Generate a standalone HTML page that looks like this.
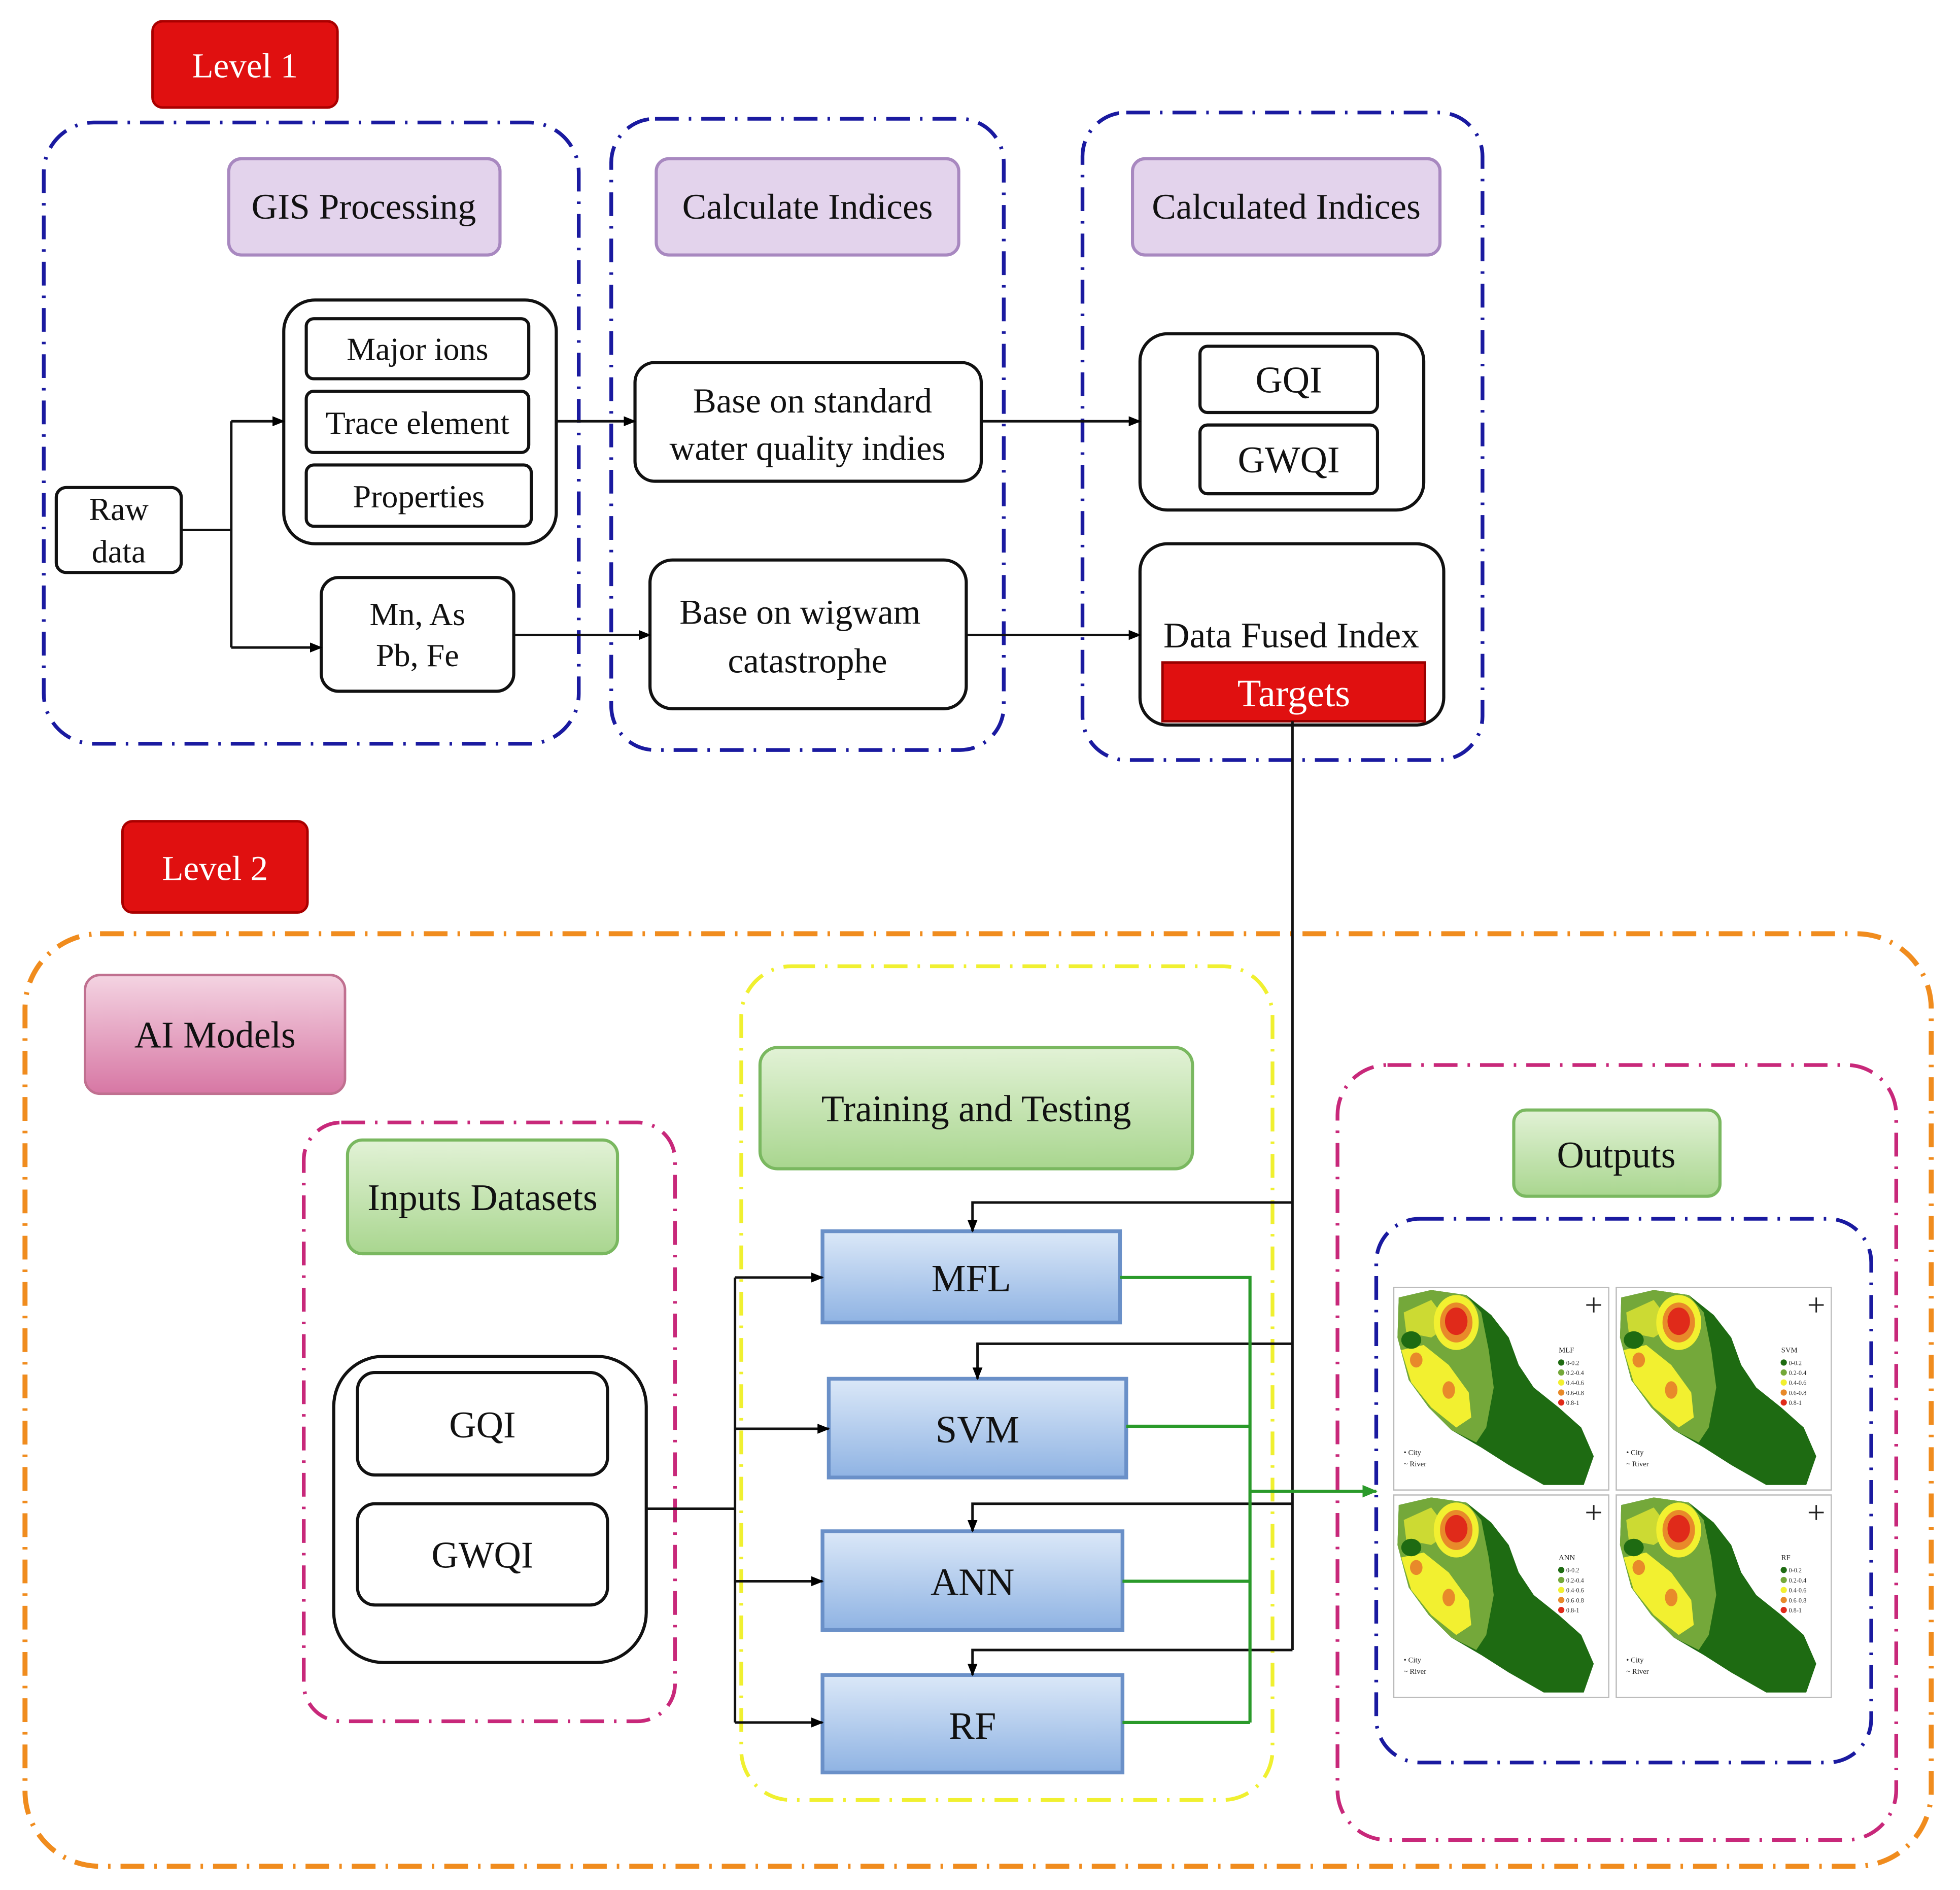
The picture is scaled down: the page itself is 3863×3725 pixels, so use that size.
<!DOCTYPE html>
<html><head><meta charset="utf-8"><style>html,body{margin:0;padding:0;background:#fff}svg{display:block}</style></head>
<body>
<svg xmlns="http://www.w3.org/2000/svg" width="3863" height="3725" viewBox="0 0 1568 1512" font-family="'Liberation Serif', serif">
<defs>
<marker id="ak" markerWidth="10" markerHeight="8" refX="9" refY="4" orient="auto" markerUnits="userSpaceOnUse"><path d="M0,0 L10,4 L0,8 Z" fill="#000"/></marker>
<marker id="ag" markerWidth="12" markerHeight="10" refX="11" refY="5" orient="auto" markerUnits="userSpaceOnUse"><path d="M0,0 L12,5 L0,10 Z" fill="#2a9a2a"/></marker>
<linearGradient id="gb" x1="0" y1="0" x2="0" y2="1"><stop offset="0" stop-color="#dbe8f8"/><stop offset="1" stop-color="#8fb3e3"/></linearGradient>
<linearGradient id="gg" x1="0" y1="0" x2="0" y2="1"><stop offset="0" stop-color="#e2f2d6"/><stop offset="1" stop-color="#a9d68f"/></linearGradient>
<linearGradient id="gp" x1="0" y1="0" x2="0" y2="1"><stop offset="0" stop-color="#f4d4e2"/><stop offset="1" stop-color="#d777a4"/></linearGradient>
<g id="mapbase">
<rect x="0" y="0" width="172" height="162" fill="#fff" stroke="#bbb" stroke-width="1"/>
<path d="M4,8 L30,2 L58,6 L78,22 L92,40 L100,62 L112,80 L132,96 L150,112 L160,135 L152,158 L120,158 L92,142 L70,128 L46,114 L28,96 L12,74 L3,40 Z" fill="#1e6b12"/>
<path d="M4,8 L30,2 L58,6 L70,20 L76,50 L80,80 L74,112 L66,124 L46,114 L28,96 L12,74 L3,40 Z" fill="#74a83a"/>
<path d="M6,50 L24,46 L44,62 L60,84 L62,104 L50,112 L30,96 L14,76 Z" fill="#f2f030"/>
<path d="M8,20 L30,10 L45,30 L30,40 L10,36 Z" fill="#f2f030" opacity="0.7"/>
<ellipse cx="50" cy="28" rx="18" ry="22" fill="#f2f030"/>
<ellipse cx="50" cy="28" rx="13" ry="16" fill="#e88a2a"/>
<ellipse cx="50" cy="27" rx="9" ry="11" fill="#e02a1a"/>
<ellipse cx="18" cy="58" rx="5" ry="6" fill="#e88a2a"/>
<ellipse cx="44" cy="82" rx="5" ry="7" fill="#e88a2a"/>
<ellipse cx="14" cy="42" rx="8" ry="7" fill="#1e6b12"/>
<g font-size="5" fill="#333"><circle cx="134" cy="60" r="2.5" fill="#1e6b12"/><text x="138" y="62">0-0.2</text><circle cx="134" cy="68" r="2.5" fill="#74a83a"/><text x="138" y="70">0.2-0.4</text><circle cx="134" cy="76" r="2.5" fill="#f2f030"/><text x="138" y="78">0.4-0.6</text><circle cx="134" cy="84" r="2.5" fill="#e88a2a"/><text x="138" y="86">0.6-0.8</text><circle cx="134" cy="92" r="2.5" fill="#e02a1a"/><text x="138" y="94">0.8-1</text></g>
<text x="8" y="134" font-size="6" fill="#222">• City</text><text x="8" y="143" font-size="6" fill="#222">~ River</text>
<path d="M160,8 L160,20 M154,14 L166,14" stroke="#222" stroke-width="1.2"/>
</g>
</defs>

<g fill="none" stroke-width="3" stroke-dasharray="19 8 2 8">
<rect x="35" y="98" width="428" height="497" rx="40" stroke="#1a1aa0"/>
<rect x="489" y="95" width="314" height="505" rx="35" stroke="#1a1aa0"/>
<rect x="866" y="90" width="320" height="518" rx="35" stroke="#1a1aa0"/>
<rect x="20" y="747" width="1525" height="746" rx="60" stroke="#f08c1e" stroke-width="4"/>
<rect x="243" y="898" width="297" height="479" rx="30" stroke="#c8287a"/>
<rect x="593" y="773" width="425" height="667" rx="40" stroke="#f0f030"/>
<rect x="1070" y="852" width="447" height="620" rx="40" stroke="#c8287a"/>
<rect x="1101" y="975" width="396" height="435" rx="35" stroke="#1a1aa0"/>
</g>

<rect x="122" y="17" width="148" height="69" rx="8" fill="#e01010" stroke="#a00" stroke-width="2"/>
<text x="196" y="62" font-size="28" fill="#fff" text-anchor="middle">Level 1</text>
<rect x="98" y="657" width="148" height="73" rx="8" fill="#e01010" stroke="#a00" stroke-width="2"/>
<text x="172" y="704" font-size="28" fill="#fff" text-anchor="middle">Level 2</text>

<g fill="#e3d3ec" stroke="#a888c0" stroke-width="2.5">
<rect x="183" y="127" width="217" height="77" rx="10"/>
<rect x="525" y="127" width="242" height="77" rx="10"/>
<rect x="906" y="127" width="246" height="77" rx="10"/>
</g>
<g font-size="29" text-anchor="middle" fill="#111">
<text x="291" y="175">GIS Processing</text>
<text x="646" y="175">Calculate Indices</text>
<text x="1029" y="175">Calculated Indices</text>
</g>

<g fill="#fff" stroke="#111" stroke-width="2.5">
<rect x="227" y="240" width="218" height="195" rx="25"/>
<rect x="245" y="255" width="178" height="48" rx="6"/>
<rect x="245" y="313" width="178" height="49" rx="6"/>
<rect x="245" y="372" width="180" height="49" rx="6"/>
<rect x="45" y="390" width="100" height="68" rx="8"/>
<rect x="257" y="462" width="154" height="91" rx="14"/>
<rect x="508" y="290" width="277" height="95" rx="16"/>
<rect x="520" y="448" width="253" height="119" rx="18"/>
<rect x="912" y="267" width="227" height="141" rx="22"/>
<rect x="960" y="277" width="142" height="53" rx="6"/>
<rect x="960" y="340" width="142" height="55" rx="6"/>
<rect x="912" y="435" width="243" height="145" rx="22"/>
<rect x="267" y="1085" width="250" height="245" rx="40"/>
<rect x="286" y="1098" width="200" height="82" rx="14"/>
<rect x="286" y="1203" width="200" height="81" rx="14"/>
</g>
<rect x="930" y="530" width="210" height="47" fill="#e01010" stroke="#900" stroke-width="2"/>

<g font-size="26" text-anchor="middle" fill="#111">
<text x="334" y="288">Major ions</text>
<text x="334" y="347">Trace element</text>
<text x="335" y="406">Properties</text>
<text x="95" y="416">Raw</text><text x="95" y="450">data</text>
<text x="334" y="500">Mn, As</text><text x="334" y="533">Pb, Fe</text>
<text x="650" y="330" font-size="28">Base on standard</text>
<text x="646" y="368" font-size="28">water quality indies</text>
<text x="640" y="499" font-size="28">Base on wigwam</text>
<text x="646" y="538" font-size="28">catastrophe</text>
<text x="1031" y="314" font-size="30">GQI</text>
<text x="1031" y="378" font-size="30">GWQI</text>
<text x="1033" y="518" font-size="29">Data Fused Index</text>
<text x="1035" y="565" font-size="31" fill="#fff">Targets</text>
<text x="386" y="1150" font-size="30">GQI</text>
<text x="386" y="1254" font-size="30">GWQI</text>
</g>

<rect x="68" y="780" width="208" height="95" rx="12" fill="url(#gp)" stroke="#c07090" stroke-width="2"/>
<text x="172" y="838" font-size="30" text-anchor="middle" fill="#111">AI  Models</text>
<g stroke="#7ab860" stroke-width="2.5" fill="url(#gg)">
<rect x="278" y="912" width="216" height="91" rx="12"/>
<rect x="608" y="838" width="346" height="97" rx="14"/>
<rect x="1211" y="888" width="165" height="69" rx="10"/>
</g>
<g font-size="30" text-anchor="middle" fill="#111">
<text x="386" y="968">Inputs Datasets</text>
<text x="781" y="897">Training  and Testing</text>
<text x="1293" y="934">Outputs</text>
</g>

<g stroke="#6a90c8" stroke-width="3" fill="url(#gb)">
<rect x="658" y="985" width="238" height="73"/>
<rect x="663" y="1103" width="238" height="79"/>
<rect x="658" y="1225" width="240" height="79"/>
<rect x="658" y="1340" width="240" height="78"/>
</g>
<g font-size="31" text-anchor="middle" fill="#111">
<text x="777" y="1033">MFL</text>
<text x="782" y="1154">SVM</text>
<text x="778" y="1276">ANN</text>
<text x="778" y="1391">RF</text>
</g>

<g fill="none" stroke="#111" stroke-width="2">
<path d="M145,424 H185"/>
<path d="M185,337 V518"/>
<path d="M185,337 H227" marker-end="url(#ak)"/>
<path d="M185,518 H257" marker-end="url(#ak)"/>
<path d="M445,337 H508" marker-end="url(#ak)"/>
<path d="M411,508 H520" marker-end="url(#ak)"/>
<path d="M785,337 H912" marker-end="url(#ak)"/>
<path d="M773,508 H912" marker-end="url(#ak)"/>
<path d="M1034,577 V1320"/>
<path d="M1034,962 H778 V985" marker-end="url(#ak)"/>
<path d="M1034,1075 H782 V1103" marker-end="url(#ak)"/>
<path d="M1034,1203 H778 V1225" marker-end="url(#ak)"/>
<path d="M1034,1320 H778 V1340" marker-end="url(#ak)"/>
<path d="M517,1207 H588"/>
<path d="M588,1022 V1378"/>
<path d="M588,1022 H658" marker-end="url(#ak)"/>
<path d="M588,1143 H663" marker-end="url(#ak)"/>
<path d="M588,1265 H658" marker-end="url(#ak)"/>
<path d="M588,1378 H658" marker-end="url(#ak)"/>
</g>
<g fill="none" stroke="#2a9a2a" stroke-width="2.5">
<path d="M896,1022 H1000 V1378"/>
<path d="M901,1141 H1000"/>
<path d="M898,1265 H1000"/>
<path d="M898,1378 H1000"/>
<path d="M1000,1193 H1101" marker-end="url(#ag)"/>
</g>

<g transform="translate(1115,1030)"><use href="#mapbase"/><text x="132" y="52" font-size="6" fill="#222">MLF</text></g>
<g transform="translate(1293,1030)"><use href="#mapbase"/><text x="132" y="52" font-size="6" fill="#222">SVM</text></g>
<g transform="translate(1115,1196)"><use href="#mapbase"/><text x="132" y="52" font-size="6" fill="#222">ANN</text></g>
<g transform="translate(1293,1196)"><use href="#mapbase"/><text x="132" y="52" font-size="6" fill="#222">RF</text></g>
</svg>
</body></html>
